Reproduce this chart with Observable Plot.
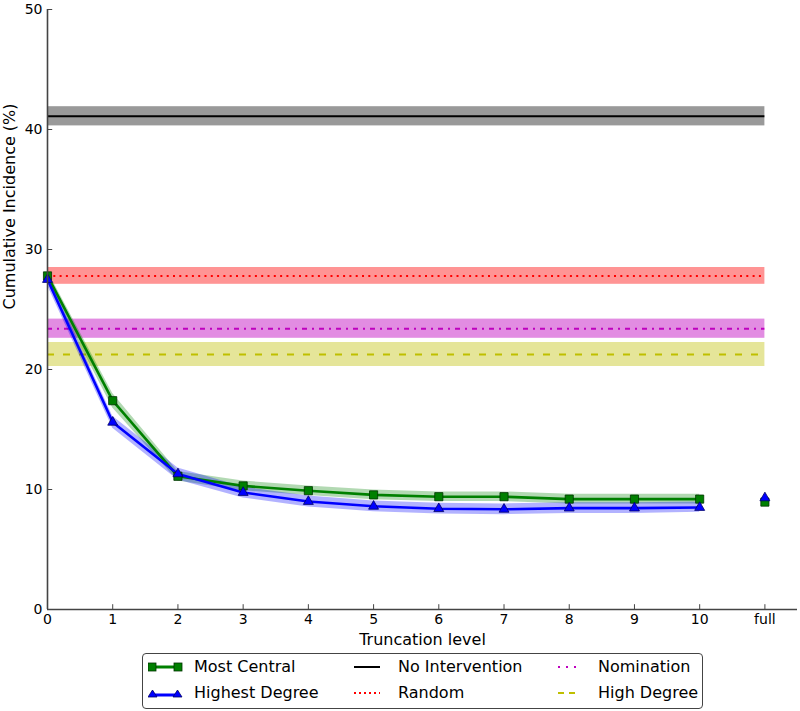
<!DOCTYPE html>
<html>
<head>
<meta charset="utf-8">
<script src="https://cdn.jsdelivr.net/npm/d3@7"></script>
<script src="https://cdn.jsdelivr.net/npm/@observablehq/plot@0.6"></script>
<style>
  html, body { margin: 0; padding: 0; background: #fff; }
  body { width: 800px; height: 711px; position: relative; overflow: hidden; font-family: "DejaVu Sans", sans-serif; }
  #legend { position: absolute; left: 142px; top: 653px; width: 561px; height: 56px; border: 1.5px solid #444; border-radius: 4px; box-sizing: border-box; }
  .item { position: absolute; height: 20px; display: flex; align-items: center; font-size: 16px; color: #000; white-space: nowrap; }
  .item svg { position: absolute; }
</style>
</head>
<body>
<div id="chart"></div>
<div id="legend"></div>
<script>
// ---- data ----
const levels = [0, 1, 2, 3, 4, 5, 6, 7, 8, 9, 10];
const centralMean = [27.8, 17.4, 11.1, 10.3, 9.9, 9.55, 9.4, 9.4, 9.2, 9.2, 9.2];
const centralLo   = [27.3, 16.8, 10.7, 9.9, 9.5, 9.15, 9.0, 9.0, 8.8, 8.8, 8.8];
const centralHi   = [28.2, 18.0, 11.5, 10.7, 10.3, 9.95, 9.8, 9.8, 9.6, 9.6, 9.6];
const highestMean = [27.5, 15.6, 11.3, 9.75, 9.0, 8.6, 8.4, 8.35, 8.45, 8.45, 8.5];
const highestLo   = [27.0, 15.1, 10.8, 9.3, 8.55, 8.15, 7.95, 7.9, 8.0, 8.0, 8.1];
const highestHi   = [28.0, 16.1, 11.8, 10.2, 9.45, 9.05, 8.85, 8.8, 8.9, 8.9, 8.95];
const fullLevel = 11;
const centralFull = 8.95;
const highestFull = 9.3;

const baselineNames = ["No Intervention", "Random", "Nomination", "High Degree"];
const baselineMean  = [41.1, 27.8, 23.4, 21.25];
const baselineLo    = [40.3, 27.1, 22.6, 20.25];
const baselineHi    = [41.9, 28.5, 24.2, 22.25];
const baselineColor = ["#000000", "#ff0000", "#bf00bf", "#bfbf00"];
const baselineBandOpacity = [0.4, 0.42, 0.45, 0.4];
const baselineDash  = [null, "2,4.3", "5,5,2,5", "7,9"];
const baselineLegendDash = [null, "2,3", "2,6", "6,5"];

const xTicks = [0, 1, 2, 3, 4, 5, 6, 7, 8, 9, 10, 11];
const xTickLabels = ["0", "1", "2", "3", "4", "5", "6", "7", "8", "9", "10", "full"];
const yTicks = [0, 10, 20, 30, 40, 50];

// ---- tables ----
const central = levels.map((x, i) => ({x, y: centralMean[i], lo: centralLo[i], hi: centralHi[i]}));
const highest = levels.map((x, i) => ({x, y: highestMean[i], lo: highestLo[i], hi: highestHi[i]}));
const baselines = baselineNames.map((name, i) => ({name, mean: baselineMean[i], lo: baselineLo[i], hi: baselineHi[i], color: baselineColor[i], op: baselineBandOpacity[i], dash: baselineDash[i], ldash: baselineLegendDash[i]}));

const spine = "#444";
const green = "#008000", blue = "#0000ff";

const marks = [
  // baseline bands and lines
  ...baselines.map(b => Plot.rect([b], {x1: () => 0, x2: () => fullLevel, y1: "lo", y2: "hi", fill: b.color, fillOpacity: b.op})),
  ...baselines.map(b => Plot.ruleY([b], {y: "mean", x1: () => 0, x2: () => fullLevel, stroke: b.color, strokeWidth: 2, strokeDasharray: b.dash})),
  // series bands
  Plot.areaY(central, {x: "x", y1: "lo", y2: "hi", fill: green, fillOpacity: 0.3}),
  Plot.areaY(highest, {x: "x", y1: "lo", y2: "hi", fill: blue, fillOpacity: 0.3}),
  // series lines
  Plot.line(central, {x: "x", y: "y", stroke: green, strokeWidth: 2.6}),
  Plot.line(highest, {x: "x", y: "y", stroke: blue, strokeWidth: 2.6}),
  Plot.dot(central, {x: "x", y: "y", symbol: "square", r: 4.6, fill: green, stroke: "#003300", strokeWidth: 0.8}),
  Plot.dot(highest, {x: "x", y: "y", symbol: "triangle", r: 3.7, fill: blue, stroke: "#000066", strokeWidth: 0.8}),
  Plot.dot([{x: fullLevel, y: centralFull}], {x: "x", y: "y", symbol: "square", r: 4.6, fill: green, stroke: "#003300", strokeWidth: 0.8}),
  Plot.dot([{x: fullLevel, y: highestFull}], {x: "x", y: "y", symbol: "triangle", r: 3.7, fill: blue, stroke: "#000066", strokeWidth: 0.8}),
  // spines & inside ticks
  Plot.ruleX([0], {y1: () => 0, y2: () => 50, stroke: spine, strokeWidth: 1.6}),
  Plot.ruleY([0], {x1: () => 0, x2: () => 11.5, stroke: spine, strokeWidth: 1.6}),
  Plot.ruleX(xTicks, {x: d => d, y1: () => 0, y2: () => 0.4, stroke: spine, strokeWidth: 1}),
  Plot.ruleY(yTicks, {y: d => d, x1: () => 0, x2: () => 0.08, stroke: spine, strokeWidth: 1}),
  // axes
  Plot.axisX({ticks: xTicks, tickSize: 0, tickPadding: 5, tickFormat: d => xTickLabels[xTicks.indexOf(d)], label: null, fontSize: 14}),
  Plot.axisY({ticks: yTicks, tickSize: 0, tickPadding: 5, label: null, fontSize: 14}),
  Plot.text(["Truncation level"], {frameAnchor: "bottom", dy: 35, fontSize: 16, fill: "#000"}),
  Plot.text(["Cumulative Incidence (%)"], {frameAnchor: "left", rotate: -90, dx: -38, fontSize: 16, fill: "#000"})
];

const chart = Plot.plot({
  width: 800,
  height: 653,
  marginLeft: 47,
  marginRight: 3,
  marginTop: 9,
  marginBottom: 44,
  x: {domain: [0, 11.5]},
  y: {domain: [0, 50]},
  style: {fontFamily: "DejaVu Sans, sans-serif", fontSize: "14px", color: "#000", background: "#fff", overflow: "visible"},
  marks
});
document.getElementById("chart").appendChild(chart);

// ---- legend (HTML, below the SVG) ----
const legendItems = [
  {label: "Most Central", kind: "central", left: 5, top: 14},
  {label: "Highest Degree", kind: "highest", left: 5, top: 40},
  {label: "No Intervention", kind: 0, left: 211, top: 14},
  {label: "Random", kind: 1, left: 211, top: 40},
  {label: "Nomination", kind: 2, left: 415, top: 14},
  {label: "High Degree", kind: 3, left: 415, top: 40}
];
const legend = document.getElementById("legend");
for (const it of legendItems) {
  const div = document.createElement("div");
  div.className = "item";
  div.style.left = it.left + "px";
  div.style.top = (it.top - 10 - 1.5) + "px";
  let icon = "";
  let textLeft;
  if (it.kind === "central") {
    icon = `<svg width="36" height="20" style="left:0;top:0"><line x1="4" x2="30" y1="10" y2="10" stroke="${green}" stroke-width="3"/><rect x="0" y="6" width="8" height="8" fill="${green}" stroke="#003300" stroke-width="0.8"/><rect x="26" y="6" width="8" height="8" fill="${green}" stroke="#003300" stroke-width="0.8"/></svg>`;
    textLeft = 46;
  } else if (it.kind === "highest") {
    icon = `<svg width="36" height="20" style="left:0;top:0"><line x1="4" x2="30" y1="12" y2="12" stroke="${blue}" stroke-width="3"/><path d="M0,14L4.5,7L9,14Z" fill="${blue}" stroke="#000066" stroke-width="0.8"/><path d="M25,14L29.5,7L34,14Z" fill="${blue}" stroke="#000066" stroke-width="0.8"/></svg>`;
    textLeft = 46;
  } else {
    const b = baselines[it.kind];
    const w = it.kind >= 2 ? 22 : 26;
    icon = `<svg width="${w}" height="20" style="left:0;top:0"><line x1="0" x2="${w}" y1="10" y2="10" stroke="${b.color}" stroke-width="2" ${b.ldash ? `stroke-dasharray="${b.ldash}"` : ""}/></svg>`;
    textLeft = it.kind >= 2 ? 40 : 44;
  }
  div.innerHTML = icon + `<span style="position:absolute;left:${textLeft}px;top:0;line-height:20px">${it.label}</span>`;
  legend.appendChild(div);
}
</script>
</body>
</html>
